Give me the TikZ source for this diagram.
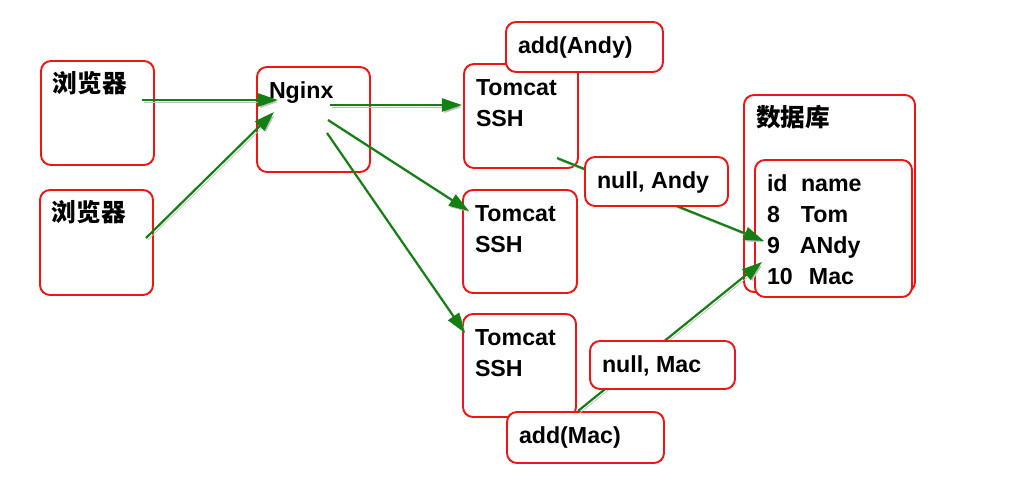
\documentclass[tikz,border=0pt]{standalone}
\usepackage{fontspec}
\setmainfont{Liberation Sans}
\newfontfamily\cjk{Noto Sans CJK SC}
\usetikzlibrary{arrows.meta}
\definecolor{boxred}{RGB}{240,20,20}
\definecolor{flowgreen}{RGB}{20,128,20}
\newlength\pxunit
\setlength\pxunit{0.02cm}
\newcommand\boxtext[3]{\parbox[c][#2\pxunit][t]{#1\pxunit}{\vspace*{10\pxunit}\leftskip=12\pxunit\strut#3}}
\tikzset{
	box/.style={draw=boxred, line width=1.1pt, rounded corners=0.2cm, fill=white, anchor=north west, inner sep=0pt, outer sep=0pt, font=\bfseries\fontsize{13.2}{17.6}\selectfont},
	flow/.style={draw=flowgreen, line width=1.25pt, -{Triangle[length=11.5pt, width=7.5pt]}, preaction={draw=black!25, transform canvas={shift={(1pt,-1.2pt)}}}}
}

\begin{document}
\begin{tikzpicture}[x=0.02cm, y=-0.02cm]
			%%%%% START %%%%%
			\useasboundingbox (0,0) rectangle (1013,500);
			
			\node[box] (br1) at (41,61) {\boxtext{113}{104}{{\cjk\bfseries\fontsize{14}{17.6}\selectfont 浏览器}}};
			\node[box] (br2) at (40,190) {\boxtext{113}{105}{{\cjk\bfseries\fontsize{14}{17.6}\selectfont 浏览器}}};
			
			\node[box] (nginx) at (257,67) {\boxtext{113}{105}{Nginx}};
			
			\node[box] (tc1) at (464,64) {\boxtext{114}{104}{Tomcat\\SSH}};
			\node[box] (tc2) at (463,190) {\boxtext{114}{103}{Tomcat\\SSH}};
			\node[box] (tc3) at (463,314) {\boxtext{113}{103}{Tomcat\\SSH}};
			
			\node[box] (addandy) at (506,22) {\boxtext{157}{50}{add(Andy)}};
			\node[box] (addmac) at (507,412) {\boxtext{157}{51}{add(Mac)}};
			
			\node[box] (db) at (744,95) {\boxtext{171}{197}{{\cjk\bfseries\fontsize{14}{17.6}\selectfont 数据库}}};
			\node[box] (tbl) at (755,160) {\boxtext{157}{137}{\makebox[34\pxunit][l]{id}name\\
				\makebox[34\pxunit][l]{8}Tom\\
				\makebox[33\pxunit][l]{9}ANdy\\
				\makebox[42\pxunit][l]{10}Mac}};
			
			\coordinate (b1out) at (142,100);
			\coordinate (ngin1) at (278,100);
			\coordinate (b2out) at (146,238);
			\coordinate (ngin2) at (274,112);
			\coordinate (n1) at (330,105);
			\coordinate (t1in) at (462,105);
			\coordinate (n2) at (328,120);
			\coordinate (t2in) at (469,211);
			\coordinate (n3) at (327,133);
			\coordinate (t3in) at (465,333);
			\coordinate (t1out) at (557,158);
			\coordinate (row9) at (764,241);
			\coordinate (macout) at (578,411);
			\coordinate (row10) at (762,262);
			
			\draw[flow] (b1out) -- (ngin1);
			\draw[flow] (b2out) -- (ngin2);
			\draw[flow] (n1) -- (t1in);
			\draw[flow] (n2) -- (t2in);
			\draw[flow] (n3) -- (t3in);
			\draw[flow] (t1out) -- (row9);
			\draw[flow] (macout) -- (row10);
			
			\node[box] (nullandy) at (585,157) {\boxtext{143}{49}{null, Andy}};
			\node[box] (nullmac) at (590,341) {\boxtext{145}{48}{null, Mac}};
			
			%%%%% END %%%%%
\end{tikzpicture}
\end{document}
